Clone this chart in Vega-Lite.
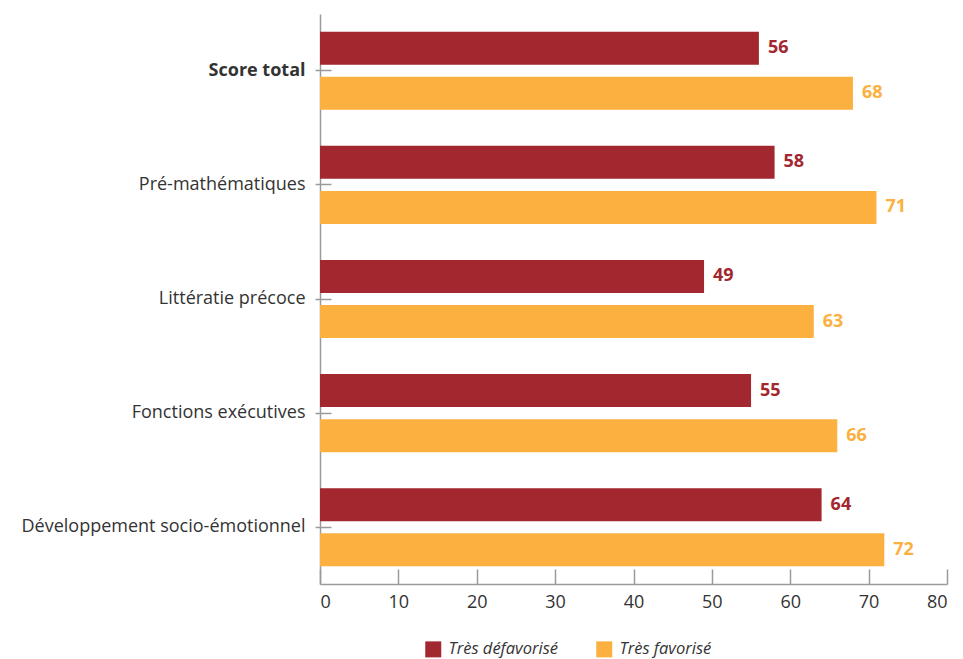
{
  "$schema": "https://vega.github.io/schema/vega-lite/v6.json",
  "width": 627,
  "height": 570,
  "autosize": {"type": "none"},
  "padding": {"left": 320, "top": 14, "right": 16, "bottom": 75},
  "config": {
    "font": "Open Sans",
    "view": {"stroke": null},
    "axis": {"labelFont": "Open Sans", "labelColor": "#333333", "domainColor": "#9a9a9a", "tickColor": "#9a9a9a", "grid": false},
    "legend": {"labelFont": "Open Sans"}
  },
  "data": {
    "values": [
      {"cat": "Score total", "groupe": "Très défavorisé", "score": 56},
      {"cat": "Score total", "groupe": "Très favorisé", "score": 68},
      {"cat": "Pré-mathématiques", "groupe": "Très défavorisé", "score": 58},
      {"cat": "Pré-mathématiques", "groupe": "Très favorisé", "score": 71},
      {"cat": "Littératie précoce", "groupe": "Très défavorisé", "score": 49},
      {"cat": "Littératie précoce", "groupe": "Très favorisé", "score": 63},
      {"cat": "Fonctions exécutives", "groupe": "Très défavorisé", "score": 55},
      {"cat": "Fonctions exécutives", "groupe": "Très favorisé", "score": 66},
      {"cat": "Développement socio-émotionnel", "groupe": "Très défavorisé", "score": 64},
      {"cat": "Développement socio-émotionnel", "groupe": "Très favorisé", "score": 72}
    ]
  },
  "encoding": {
    "yOffset": {"field": "groupe", "type": "nominal", "sort": ["Très défavorisé", "Très favorisé"], "scale": {"paddingInner": 0.27, "paddingOuter": 0}},
    "x": {
      "field": "score", "type": "quantitative", "title": null,
      "scale": {"domain": [0, 80], "nice": false},
      "axis": {"values": [0, 10, 20, 30, 40, 50, 60, 70, 80], "labelFontSize": 18, "tickSize": -15, "labelPadding": 24, "domainWidth": 1.5, "tickWidth": 1.5}
    },
    "color": {
      "field": "groupe", "type": "nominal", "sort": ["Très défavorisé", "Très favorisé"],
      "scale": {"domain": ["Très défavorisé", "Très favorisé"], "range": ["#A3272E", "#FBB040"]},
      "legend": {
        "title": null, "orient": "none", "direction": "horizontal", "legendX": 105, "legendY": 627,
        "symbolType": "square", "symbolSize": 256, "symbolOpacity": 1, "symbolStrokeWidth": 0,
        "labelFontSize": 16.5, "labelFontStyle": "italic", "labelColor": "#333333", "columnPadding": 38, "labelOffset": 7, "labelLimit": 300
      }
    }
  },
  "resolve": {"axis": {"y": "independent"}},
  "layer": [
    {
      "mark": {"type": "bar"},
      "encoding": {
        "y": {
          "field": "cat", "type": "nominal", "sort": null, "title": null,
          "scale": {"paddingInner": 0.316, "paddingOuter": 0.155},
          "axis": {
            "orient": "left", "labelFontSize": 18, "tickSize": 5, "labelPadding": 10, "labelLimit": 400, "domainWidth": 1.5, "tickWidth": 1.5,
            "labelFontWeight": {"condition": {"test": "datum.value == 'Score total'", "value": "bold"}, "value": "normal"}
          }
        }
      }
    },
    {
      "mark": {"type": "text", "align": "left", "baseline": "middle", "dx": 9, "fontSize": 18, "fontWeight": "bold"},
      "encoding": {
        "y": {
          "field": "cat", "type": "nominal", "sort": null, "title": null,
          "axis": {"orient": "left", "labels": false, "domain": false, "tickSize": -11, "tickWidth": 1.5}
        },
        "text": {"field": "score", "type": "quantitative"}
      }
    }
  ]
}
